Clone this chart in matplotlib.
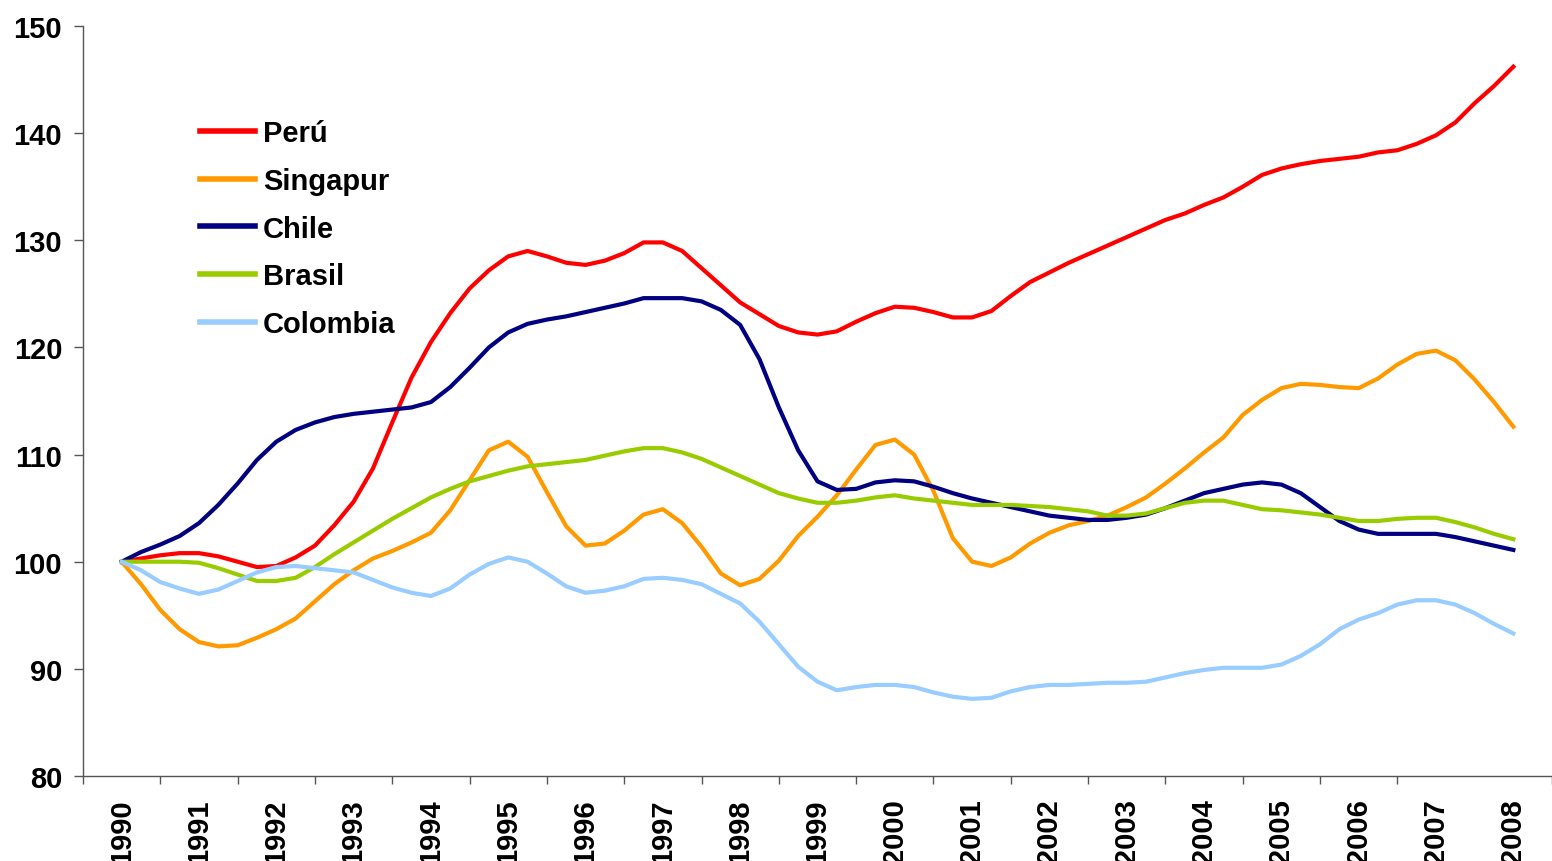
import numpy as np
import matplotlib
matplotlib.use("Agg")
import matplotlib.pyplot as plt

# Quarterly index (1990 = 100), 1990Q1 .. 2008Q1
years = list(range(1990, 2009))
quarters = 1990 + np.arange(73) / 4.0

peru = [100.0, 100.3, 100.6, 100.8, 100.8, 100.5, 100.0, 99.5, 99.6, 100.4,
        101.5, 103.4, 105.6, 108.7, 113.0, 117.2, 120.5, 123.2, 125.5, 127.2,
        128.5, 129.0, 128.5, 127.9, 127.7, 128.1, 128.8, 129.8, 129.8, 129.0,
        127.4, 125.8, 124.2, 123.1, 122.0, 121.4, 121.2, 121.5, 122.4, 123.2,
        123.8, 123.7, 123.3, 122.8, 122.8, 123.4, 124.8, 126.1, 127.0, 127.9,
        128.7, 129.5, 130.3, 131.1, 131.9, 132.5, 133.3, 134.0, 135.0, 136.1,
        136.7, 137.1, 137.4, 137.6, 137.8, 138.2, 138.4, 139.0, 139.8, 141.0,
        142.8, 144.4, 146.2]

singapur = [100.0, 97.9, 95.5, 93.7, 92.5, 92.1, 92.2, 92.9, 93.7, 94.7,
            96.3, 97.9, 99.2, 100.3, 101.0, 101.8, 102.7, 104.8, 107.6, 110.4,
            111.2, 109.8, 106.5, 103.3, 101.5, 101.7, 102.9, 104.4, 104.9, 103.6,
            101.4, 98.9, 97.8, 98.4, 100.1, 102.4, 104.2, 106.2, 108.6, 110.9,
            111.4, 110.0, 106.6, 102.2, 100.0, 99.6, 100.4, 101.7, 102.7, 103.4,
            103.8, 104.3, 105.1, 106.0, 107.3, 108.7, 110.2, 111.6, 113.7, 115.1,
            116.2, 116.6, 116.5, 116.3, 116.2, 117.1, 118.4, 119.4, 119.7, 118.8,
            117.0, 114.9, 112.6]

chile = [100.0, 100.9, 101.6, 102.4, 103.6, 105.3, 107.3, 109.5, 111.2, 112.3,
         113.0, 113.5, 113.8, 114.0, 114.2, 114.4, 114.9, 116.3, 118.1, 120.0,
         121.4, 122.2, 122.6, 122.9, 123.3, 123.7, 124.1, 124.6, 124.6, 124.6,
         124.3, 123.5, 122.1, 118.9, 114.4, 110.4, 107.5, 106.7, 106.8, 107.4,
         107.6, 107.5, 107.0, 106.4, 105.9, 105.5, 105.1, 104.7, 104.3, 104.1,
         103.9, 103.9, 104.1, 104.4, 105.0, 105.7, 106.4, 106.8, 107.2, 107.4,
         107.2, 106.4, 105.1, 103.8, 103.0, 102.6, 102.6, 102.6, 102.6, 102.3,
         101.9, 101.5, 101.1]

brasil = [100.0, 100.0, 100.0, 100.0, 99.9, 99.4, 98.8, 98.2, 98.2, 98.5,
          99.5, 100.7, 101.8, 102.9, 104.0, 105.0, 106.0, 106.8, 107.5, 108.0,
          108.5, 108.9, 109.1, 109.3, 109.5, 109.9, 110.3, 110.6, 110.6, 110.2,
          109.6, 108.8, 108.0, 107.2, 106.4, 105.9, 105.5, 105.5, 105.7, 106.0,
          106.2, 105.9, 105.7, 105.5, 105.3, 105.3, 105.3, 105.2, 105.1, 104.9,
          104.7, 104.3, 104.3, 104.5, 105.0, 105.5, 105.7, 105.7, 105.3, 104.9,
          104.8, 104.6, 104.4, 104.1, 103.8, 103.8, 104.0, 104.1, 104.1, 103.7,
          103.2, 102.6, 102.1]

colombia = [100.0, 99.2, 98.1, 97.5, 97.0, 97.4, 98.2, 99.0, 99.5, 99.6,
            99.4, 99.2, 99.0, 98.3, 97.6, 97.1, 96.8, 97.5, 98.8, 99.8,
            100.4, 100.0, 98.9, 97.7, 97.1, 97.3, 97.7, 98.4, 98.5, 98.3,
            97.9, 97.0, 96.1, 94.4, 92.3, 90.2, 88.8, 88.0, 88.3, 88.5,
            88.5, 88.3, 87.8, 87.4, 87.2, 87.3, 87.9, 88.3, 88.5, 88.5,
            88.6, 88.7, 88.7, 88.8, 89.2, 89.6, 89.9, 90.1, 90.1, 90.1,
            90.4, 91.2, 92.3, 93.7, 94.6, 95.2, 96.0, 96.4, 96.4, 96.0,
            95.2, 94.2, 93.3]

series = [("Perú", peru, "#FF0000"),
          ("Singapur", singapur, "#FF9900"),
          ("Chile", chile, "#000080"),
          ("Brasil", brasil, "#99CC00"),
          ("Colombia", colombia, "#99CCFF")]

plt.rcParams['font.family'] = ['Liberation Sans', 'DejaVu Sans']

fig = plt.figure(figsize=(15.52, 8.62), dpi=100)
ax = fig.add_axes([83 / 1552, 85 / 862, 1469 / 1552, 750 / 862])

for name, vals, col in series:
    ax.plot(quarters, vals, color=col, lw=3, label=name, solid_joinstyle='round')

ax.set_ylim(80, 150)
ax.set_yticks(range(80, 151, 10))
ax.set_xlim(1989.5, 1989.5 + 1469 / 78.2)

# category boundaries get the tick marks, year labels sit in between
ax.set_xticks([y - 0.5 for y in years[:-1]] + [2008.5])
ax.set_xticklabels([])
ax.set_xticks(years, minor=True)
ax.set_xticklabels([str(y) for y in years], minor=True, rotation=90,
                   fontsize=21, fontweight='bold', va='top')
ax.tick_params(axis='x', which='minor', length=0, pad=16)
ax.tick_params(axis='x', which='major', direction='out', length=6, width=1, color='#555555')
ax.tick_params(axis='y', direction='out', length=6.5, width=1, color='#555555',
               labelsize=21, pad=8.5)
for lbl in ax.get_yticklabels():
    lbl.set_fontweight('bold')

for s in ['top', 'right']:
    ax.spines[s].set_visible(False)
for s in ['left', 'bottom']:
    ax.spines[s].set_color('#555555')
    ax.spines[s].set_linewidth(1)

leg = ax.legend(loc='upper left', bbox_to_anchor=(200 / 1552, 1 - 120 / 862),
                bbox_transform=fig.transFigure, frameon=False,
                prop={'size': 21, 'weight': 'bold'}, handlelength=1.9,
                handletextpad=0.25, labelspacing=0.68, borderpad=0, borderaxespad=0)
for line in leg.get_lines():
    line.set_linewidth(4)

fig.savefig("out.png", dpi=100)
